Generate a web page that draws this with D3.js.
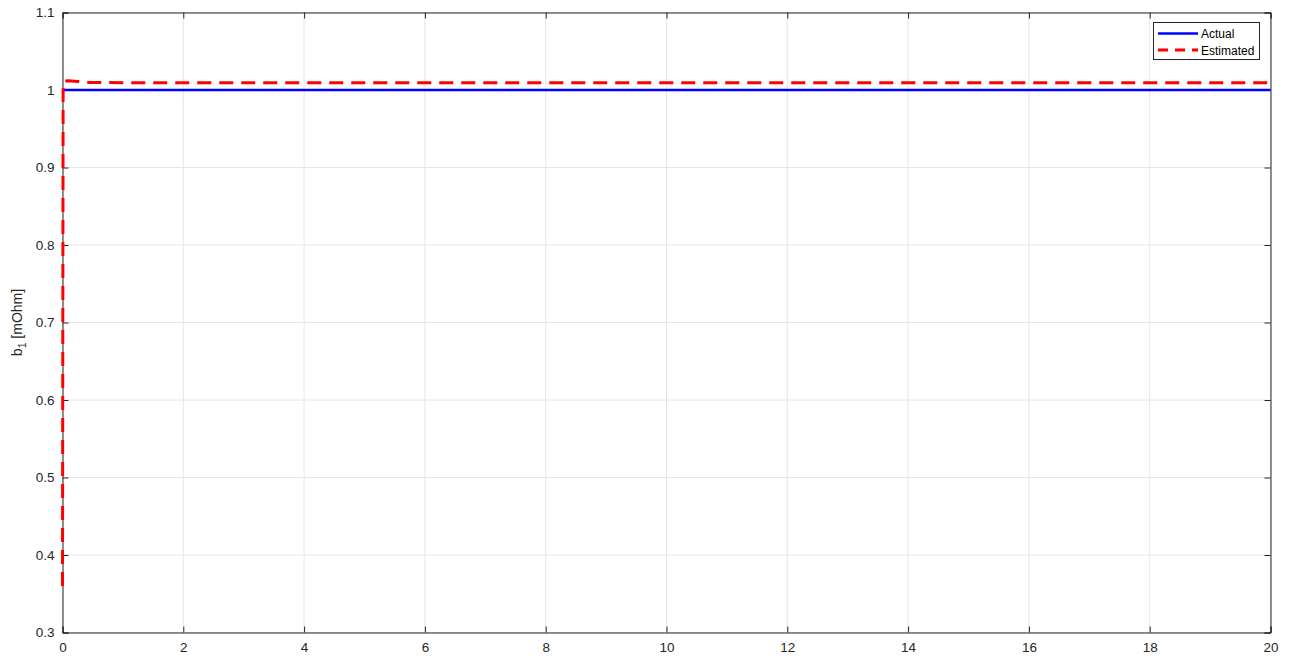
<!DOCTYPE html>
<html><head><meta charset="utf-8">
<script src="https://cdn.jsdelivr.net/npm/d3@7"></script>
<style>
html,body{margin:0;padding:0;background:#fff;}
svg{display:block;font-family:"Liberation Sans",Arial,sans-serif;}
</style></head>
<body>
<svg id="c" width="1293" height="660"></svg>
<script>
const xTicks = [0,2,4,6,8,10,12,14,16,18,20];
const yTicks = [0.3,0.4,0.5,0.6,0.7,0.8,0.9,1,1.1];
const actualT = [0, 20];
const actualV = [1, 1];
const estT = [0, 0.01, 0.03, 0.1, 0.25, 0.45, 1, 20];
const estV = [0.36, 1.0, 1.0115, 1.0118, 1.011, 1.0097, 1.0095, 1.0095];
const seriesNames = ["Actual","Estimated"];

const W=1293,H=660;
const m={l:62.5,t:12.5,r:1270.5,b:632.5};
const svg=d3.select("#c");
const x=d3.scaleLinear().domain([0,20]).range([m.l,m.r]);
const y=d3.scaleLinear().domain([0.3,1.1]).range([m.b,m.t]);

// grid
const g=svg.append("g");
g.selectAll(".gx").data(xTicks).enter().append("line")
 .attr("x1",d=>x(d)).attr("x2",d=>x(d)).attr("y1",m.t).attr("y2",m.b)
 .attr("stroke","#e6e6e6").attr("stroke-width",1);
g.selectAll(".gy").data(yTicks).enter().append("line")
 .attr("y1",d=>y(d)).attr("y2",d=>y(d)).attr("x1",m.l).attr("x2",m.r)
 .attr("stroke","#e6e6e6").attr("stroke-width",1);

// axes
const ax=svg.append("g").attr("transform",`translate(0,${m.b})`)
 .call(d3.axisBottom(x).tickValues(xTicks).tickSize(-6).tickPadding(10).tickFormat(d3.format("d")));
const ay=svg.append("g").attr("transform",`translate(${m.l},0)`)
 .call(d3.axisLeft(y).tickValues(yTicks).tickSize(-6).tickPadding(8).tickFormat(d=>d3.format("~g")(d)));
const axT=svg.append("g").attr("transform",`translate(0,${m.t})`)
 .call(d3.axisTop(x).tickValues(xTicks).tickSize(-6).tickFormat(""));
const ayR=svg.append("g").attr("transform",`translate(${m.r},0)`)
 .call(d3.axisRight(y).tickValues(yTicks).tickSize(-6).tickFormat(""));
[ax,ay,axT,ayR].forEach(a=>{
 a.selectAll("path").attr("stroke","#262626").attr("stroke-width",1);
 a.selectAll("line").attr("stroke","#262626");
 a.selectAll("text").attr("fill","#262626").style("font-size","13.5px").attr("font-family","Liberation Sans, Arial, sans-serif");
});

// lines (on top)
const lineA=d3.line().x((d,i)=>x(actualT[i])).y(d=>y(d));
svg.append("path").datum(actualV).attr("d",lineA).attr("fill","none")
 .attr("stroke","#0000ff").attr("stroke-width",2.5);
const lineE=d3.line().x((d,i)=>x(estT[i])).y(d=>y(d));
svg.append("path").datum(estV).attr("d",lineE).attr("fill","none")
 .attr("stroke","#ff0000").attr("stroke-width",3).attr("stroke-dasharray","14,8");

// y label
const yl=svg.append("text").attr("transform",`translate(22,${(m.t+m.b)/2}) rotate(-90)`)
 .attr("text-anchor","middle").attr("fill","#262626").style("font-size","14px");
yl.append("tspan").text("b");
yl.append("tspan").attr("dy",4).style("font-size","10.5px").text("1");
yl.append("tspan").attr("dy",-4).text(" [mOhm]");

// legend
const lg=svg.append("g");
lg.append("rect").attr("x",1153.5).attr("y",22.5).attr("width",106).attr("height",37)
 .attr("fill","#fff").attr("stroke","#262626").attr("stroke-width",1);
lg.append("line").attr("x1",1158).attr("x2",1198).attr("y1",33.5).attr("y2",33.5)
 .attr("stroke","#0000ff").attr("stroke-width",2.5);
lg.append("line").attr("x1",1158).attr("x2",1198).attr("y1",50).attr("y2",50)
 .attr("stroke","#ff0000").attr("stroke-width",3).attr("stroke-dasharray","10,7");
lg.append("text").attr("x",1201).attr("y",38).text(seriesNames[0]).attr("fill","#000").style("font-size","12px");
lg.append("text").attr("x",1201).attr("y",55).text(seriesNames[1]).attr("fill","#000").style("font-size","12px");
</script>
</body></html>
